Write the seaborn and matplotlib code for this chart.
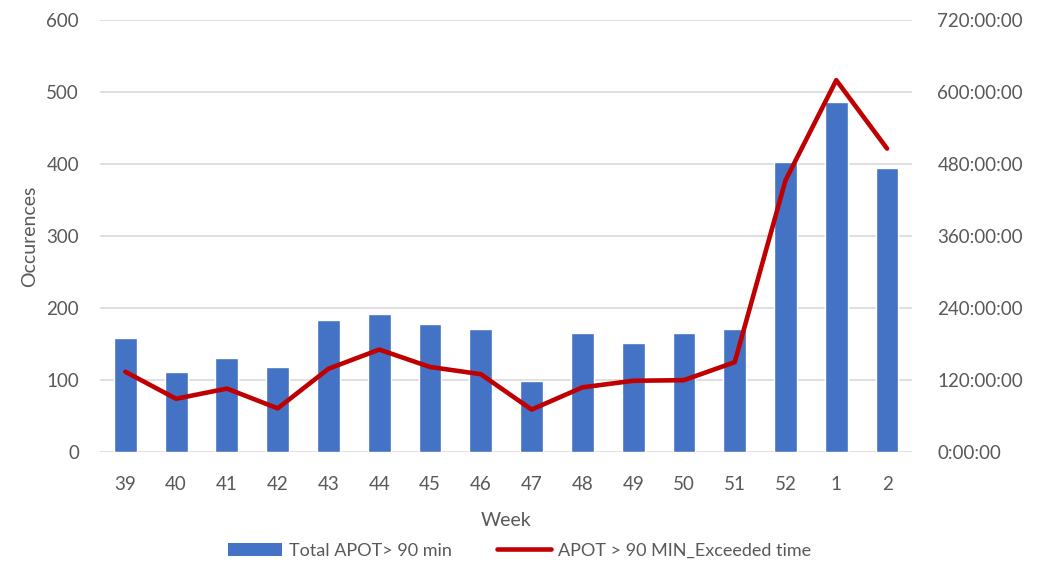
import matplotlib
matplotlib.use("Agg")
import matplotlib.pyplot as plt
import numpy as np
import pandas as pd
import seaborn as sns
from matplotlib.patches import Patch
from matplotlib.lines import Line2D
from matplotlib.ticker import FuncFormatter, MultipleLocator

weeks = ["39", "40", "41", "42", "43", "44", "45", "46",
         "47", "48", "49", "50", "51", "52", "1", "2"]
occurrences = [158, 112, 131, 118, 183, 192, 178, 171,
               99, 165, 151, 166, 171, 403, 487, 395]
# exceeded time, in hours
exceeded_hours = [134, 89, 106, 73, 139, 171, 142, 130,
                  71, 108, 119, 120, 150, 453, 620, 506]

BLUE = "#4472C4"
RED = "#C00000"
GREY = "#595959"
GRID = "#D9D9D9"

sns.set_theme(style="white")
plt.rcParams["font.family"] = ["Lato", "DejaVu Sans"]

df = pd.DataFrame({"week": weeks, "occ": occurrences, "hours": exceeded_hours})
df["pos"] = np.arange(len(df))

fig = plt.figure(figsize=(10.39, 5.61), dpi=100)
ax = fig.add_axes([0.0962, 0.194, 0.782, 0.770])

sns.barplot(data=df, x="week", y="occ", order=weeks, color=BLUE,
            width=0.45, saturation=1, ax=ax, zorder=2)
ax.set_xlim(-0.5, len(weeks) - 0.5)
ax.set_ylim(0, 600)
ax.yaxis.set_major_locator(MultipleLocator(100))
ax.grid(axis="y", color=GRID, linewidth=1.2, zorder=0)
ax.set_axisbelow(True)
ax.set_ylabel("Occurences", fontsize=14, color=GREY, labelpad=6)
ax.set_xlabel("Week", fontsize=14, color=GREY, labelpad=14)
ax.tick_params(axis="y", length=0, labelsize=13.5, colors=GREY, pad=15)
ax.tick_params(axis="x", length=0, labelsize=13.5, colors=GREY, pad=17)

ax2 = ax.twinx()
sns.lineplot(data=df, x="pos", y="hours", color=RED, linewidth=3.3, ax=ax2)
ax2.set_ylim(0, 720)
ax2.yaxis.set_major_locator(MultipleLocator(120))
ax2.yaxis.set_major_formatter(FuncFormatter(lambda v, p: f"{int(v)}:00:00"))
ax2.set_ylabel("")
ax2.set_xlabel("")
ax2.tick_params(axis="y", length=0, labelsize=13.5, colors=GREY, pad=18)
ax2.set_xlim(-0.5, len(weeks) - 0.5)

for a in (ax, ax2):
    for s in a.spines.values():
        s.set_visible(False)

handles = [Patch(facecolor=BLUE, edgecolor="none"),
           Line2D([0], [0], color=RED, linewidth=3.3)]
fig.legend(handles, ["Total APOT> 90 min", "APOT > 90 MIN_Exceeded time"],
           loc="lower center", bbox_to_anchor=(0.5, -0.025), ncol=2,
           frameon=False, fontsize=13, labelcolor=GREY,
           handlelength=3.0, columnspacing=2.5, handletextpad=0.4)

fig.savefig("out.png", dpi=100)
